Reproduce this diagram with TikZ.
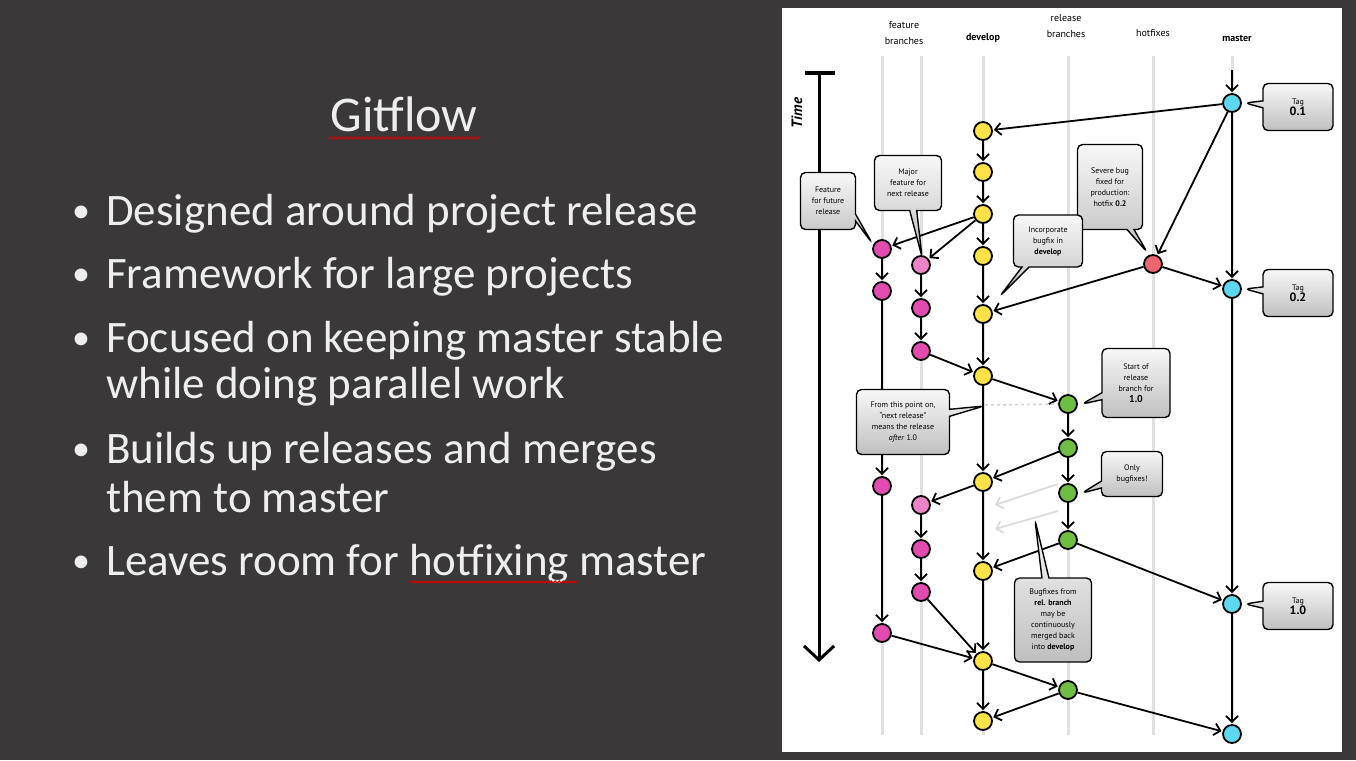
\documentclass[tikz,border=0pt]{standalone}
\usepackage{fontspec}
\setmainfont{Carlito}
\newfontfamily\diagfont{PT Sans}
\usetikzlibrary{arrows.meta,shapes.callouts,decorations.pathmorphing}
\definecolor{slidebg}{HTML}{3A3838}
\definecolor{slidetext}{HTML}{EEEEEE}
\definecolor{devcol}{HTML}{FFE246}
\definecolor{featcol}{HTML}{E24BAF}
\definecolor{featlight}{HTML}{EE82C8}
\definecolor{relcol}{HTML}{6EBE44}
\definecolor{mastcol}{HTML}{5CD9F0}
\definecolor{hotcol}{HTML}{EC6670}
\definecolor{lanecol}{HTML}{E0E0E0}

\begin{document}
\begin{tikzpicture}[x=1pt,y=-1pt]
		\tikzstyle{every node}+=[inner sep=0pt]
		\tikzstyle{commit}=[circle, draw=black, line width=1.8pt, minimum size=18pt]
		\tikzstyle{flow}=[draw=black, line width=1.8pt, -{Straight Barb[length=6pt,width=12pt]}, shorten >=1pt]
		\tikzstyle{ghost}=[draw=black!14, line width=1.8pt, -{Straight Barb[length=6pt,width=12pt]}]
		\tikzstyle{lane}=[draw=lanecol, line width=3pt]
		\tikzstyle{note}=[rectangle callout, draw=black, line width=1.4pt, rounded corners=5pt, top color=black!3, bottom color=black!25, align=center, font=\diagfont\fontsize{8}{11}\selectfont, callout pointer width=7pt]
		\tikzstyle{hdr}=[font=\diagfont\fontsize{10}{16}\selectfont, align=center]
		\tikzstyle{point}=[font=\fontsize{45}{45}\selectfont, text=slidetext, anchor=base west]
		\tikzstyle{dot}=[font=\fontsize{36}{36}\selectfont, text=slidetext, anchor=base]
		\useasboundingbox (0,0) rectangle (1356,760);
		\fill [slidebg] (0,0) rectangle (1356,760);
		\node [font=\fontsize{50}{50}\selectfont, text=slidetext, anchor=base] (title) at (404,131) {Gitflow};
		\draw [red!85!black, line width=1pt, decorate, decoration={snake, amplitude=1.2pt, segment length=4pt}] (329,138) -- (480,138);
		\node [dot] (dot1) at (81,222) {•};
		\node [point] (l1) at (106,225) {Designed around project release};
		\node [dot] (dot2) at (81,285) {•};
		\node [point] (l2) at (106,288) {Framework for large projects};
		\node [dot] (dot3) at (81,349) {•};
		\node [point] (l3) at (106,352) {Focused on keeping master stable};
		\node [point] (l3b) at (106,398) {while doing parallel work};
		\node [dot] (dot4) at (81,460) {•};
		\node [point] (l4) at (106,463) {Builds up releases and merges};
		\node [point] (l4b) at (106,512) {them to master};
		\node [dot] (dot5) at (81,572) {•};
		\node [point] (l5) at (106,575) {Leaves room for hotfixing master};
		\draw [red!85!black, line width=1pt, decorate, decoration={snake, amplitude=1.2pt, segment length=4pt}] (410,582) -- (578,582);
		\fill [white] (782,8) rectangle (1342,752);
		\draw [lane] (882,56) -- (882,735);
		\draw [lane] (921,56) -- (921,735);
		\draw [lane] (983,56) -- (983,735);
		\draw [lane] (1068,56) -- (1068,735);
		\draw [lane] (1153,56) -- (1153,735);
		\draw [lane] (1232,56) -- (1232,735);
		\node [hdr] (hfeat) at (904,33) {feature\\branches};
		\node [hdr, font=\diagfont\bfseries\fontsize{10}{16}\selectfont] (hdev) at (983,38) {develop};
		\node [hdr] (hrel) at (1066,26) {release\\branches};
		\node [hdr] (hhot) at (1153,33) {hotfixes};
		\node [hdr, font=\diagfont\bfseries\fontsize{10}{16}\selectfont] (hmast) at (1237,38) {master};
		\coordinate (ttop) at (819,73);
		\coordinate (tbot) at (819,662);
		\coordinate (tbarl) at (805,73);
		\coordinate (tbarr) at (835,73);
		\draw [line width=4pt] (tbarl) -- (tbarr);
		\draw [line width=3pt, -{Straight Barb[length=14pt,width=30pt]}] (ttop) -- (tbot);
		\node [font=\diagfont\bfseries\itshape\fontsize{15}{15}\selectfont, rotate=90] (tlabel) at (797,113) {Time};
		\node [commit, fill=mastcol] (m1) at (1232,103) {};
		\node [commit, fill=mastcol] (m2) at (1232,289) {};
		\node [commit, fill=mastcol] (m3) at (1232,604) {};
		\node [commit, fill=mastcol] (m4) at (1232,734) {};
		\node [commit, fill=hotcol] (h1) at (1153,264) {};
		\node [commit, fill=devcol] (d1) at (983,131) {};
		\node [commit, fill=devcol] (d2) at (983,172) {};
		\node [commit, fill=devcol] (d3) at (983,214) {};
		\node [commit, fill=devcol] (d4) at (983,256) {};
		\node [commit, fill=devcol] (d5) at (983,314) {};
		\node [commit, fill=devcol] (d6) at (983,376) {};
		\node [commit, fill=devcol] (d7) at (983,482) {};
		\node [commit, fill=devcol] (d8) at (983,571) {};
		\node [commit, fill=devcol] (d9) at (983,661) {};
		\node [commit, fill=devcol] (d10) at (983,721) {};
		\node [commit, fill=featcol] (fa1) at (882,249) {};
		\node [commit, fill=featcol] (fa2) at (882,291) {};
		\node [commit, fill=featcol] (fa3) at (882,486) {};
		\node [commit, fill=featcol] (fa4) at (882,633) {};
		\node [commit, fill=featlight] (fb1) at (921,265) {};
		\node [commit, fill=featcol] (fb2) at (921,308) {};
		\node [commit, fill=featcol] (fb3) at (921,351) {};
		\node [commit, fill=featlight] (fb4) at (921,505) {};
		\node [commit, fill=featcol] (fb5) at (921,549) {};
		\node [commit, fill=featcol] (fb6) at (921,592) {};
		\node [commit, fill=relcol] (r1) at (1068,404) {};
		\node [commit, fill=relcol] (r2) at (1068,448) {};
		\node [commit, fill=relcol] (r3) at (1068,493) {};
		\node [commit, fill=relcol] (r4) at (1068,540) {};
		\node [commit, fill=relcol] (r5) at (1068,690) {};
		\coordinate (mtop) at (1232,70);
		\draw [flow] (mtop) -- (m1);
		\draw [flow] (m1) -- (d1);
		\draw [flow] (m1) -- (h1);
		\draw [flow] (m1) -- (m2);
		\draw [flow] (m2) -- (m3);
		\draw [flow] (m3) -- (m4);
		\draw [flow] (d1) -- (d2);
		\draw [flow] (d2) -- (d3);
		\draw [flow] (d3) -- (d4);
		\draw [flow] (d4) -- (d5);
		\draw [flow] (d5) -- (d6);
		\draw [flow] (d6) -- (d7);
		\draw [flow] (d7) -- (d8);
		\draw [flow] (d8) -- (d9);
		\draw [flow] (d9) -- (d10);
		\draw [flow] (d3) -- (fa1);
		\draw [flow] (d3) -- (fb1);
		\draw [flow] (fa1) -- (fa2);
		\draw [flow] (fa2) -- (fa3);
		\draw [flow] (fa3) -- (fa4);
		\draw [flow] (fa4) -- (d9);
		\draw [flow] (fb1) -- (fb2);
		\draw [flow] (fb2) -- (fb3);
		\draw [flow] (fb3) -- (d6);
		\draw [flow] (d7) -- (fb4);
		\draw [flow] (fb4) -- (fb5);
		\draw [flow] (fb5) -- (fb6);
		\draw [flow] (fb6) -- (d9);
		\draw [flow] (h1) -- (m2);
		\draw [flow] (h1) -- (d5);
		\draw [flow] (d6) -- (r1);
		\draw [flow] (r1) -- (r2);
		\draw [flow] (r2) -- (r3);
		\draw [flow] (r3) -- (r4);
		\draw [flow] (r2) -- (d7);
		\draw [flow] (r4) -- (d8);
		\draw [flow] (r4) -- (m3);
		\draw [flow] (d9) -- (r5);
		\draw [flow] (r5) -- (m4);
		\draw [flow] (r5) -- (d10);
		\coordinate (devmark) at (985,405);
		\draw [dashed, draw=black!18, line width=1.5pt] (devmark) -- (r1);
		\coordinate (g1a) at (1058,484);
		\coordinate (g1b) at (995,505);
		\coordinate (g2a) at (1058,511);
		\coordinate (g2b) at (995,529);
		\draw [ghost] (g1a) -- (g1b);
		\draw [ghost] (g2a) -- (g2b);
		\node [note, minimum width=70pt, minimum height=47pt, callout absolute pointer={(1245,103)}] (tag01) at (1298,107) {Tag\\{\fontsize{12}{14}\selectfont\bfseries 0.1}};
		\node [note, minimum width=70pt, minimum height=47pt, callout absolute pointer={(1245,289)}] (tag02) at (1298,293) {Tag\\{\fontsize{12}{14}\selectfont\bfseries 0.2}};
		\node [note, minimum width=70pt, minimum height=47pt, callout absolute pointer={(1245,604)}] (tag10) at (1298,606) {Tag\\{\fontsize{12}{14}\selectfont\bfseries 1.0}};
		\node [note, minimum width=55pt, minimum height=57pt, callout absolute pointer={(872,243)}] (future) at (828,201) {Feature\\for future\\release};
		\node [note, minimum width=67pt, minimum height=55pt, callout absolute pointer={(922,257)}] (major) at (908,183) {Major\\feature for\\next release};
		\node [note, minimum width=65pt, minimum height=85pt, callout absolute pointer={(1147,252)}] (severe) at (1110,187) {Severe bug\\fixed for\\production:\\hotfix \textbf{0.2}};
		\node [note, minimum width=69pt, minimum height=52pt, callout absolute pointer={(1000,296)}] (incorp) at (1048,241) {Incorporate\\bugfix in\\\textbf{develop}};
		\node [note, minimum width=68pt, minimum height=69pt, callout absolute pointer={(1082,404)}] (relstart) at (1136,383) {Start of\\release\\branch for\\{\fontsize{10}{12}\selectfont\bfseries 1.0}};
		\node [note, minimum width=61pt, minimum height=45pt, callout absolute pointer={(1082,493)}] (onlyfix) at (1132,474) {Only\\bugfixes!};
		\node [note, minimum width=93pt, minimum height=65pt, callout absolute pointer={(984,406)}] (nextrel) at (903,422) {From this point on,\\“next release”\\means the release\\\textit{after} 1.0};
		\node [note, minimum width=77pt, minimum height=84pt, callout absolute pointer={(1035,520)}] (backmerge) at (1053,620) {Bugfixes from\\\textbf{rel. branch}\\may be\\continuously\\merged back\\into \textbf{develop}};
\end{tikzpicture}
\end{document}
